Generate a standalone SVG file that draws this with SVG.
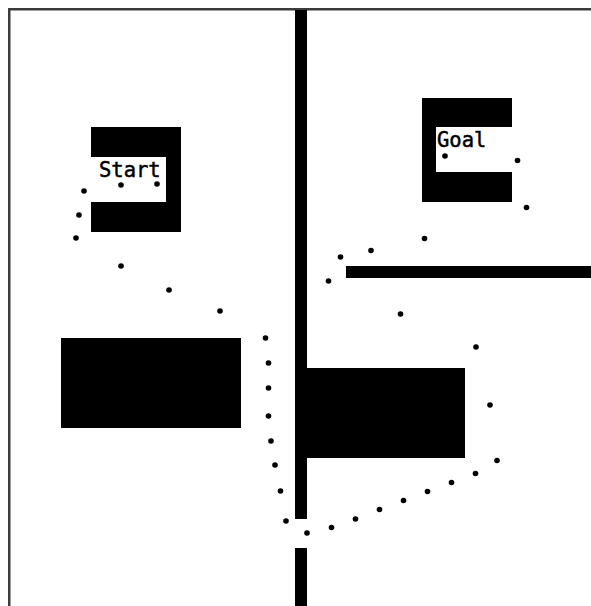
<svg xmlns="http://www.w3.org/2000/svg" width="591" height="606" viewBox="0 0 591 606">
<style>
.ob{fill:#000}
.d{fill:#000}
.t{font-family:"DejaVu Sans Mono","Liberation Mono",monospace;font-size:20.5px;fill:#000;stroke:#000;stroke-width:0.5}
</style>
<rect x="0" y="0" width="591" height="606" fill="#fff"/>
<g id="border" fill="#3c3c3c">
<rect x="8" y="8" width="583" height="2.5"/>
<rect x="8" y="8" width="2.5" height="598"/>
</g>
<g id="walls">
<rect class="ob" x="295" y="10" width="12" height="509"/>
<rect class="ob" x="295" y="548" width="12" height="58"/>
<rect class="ob" x="346" y="266" width="245" height="12"/>
<rect class="ob" x="61" y="338" width="180" height="90"/>
<rect class="ob" x="307" y="368" width="158" height="90"/>
</g>
<g id="start">
<path class="ob" d="M91 127H181V232H91V202H166V157H91Z"/>
<text class="t" x="99" y="177">Start</text>
</g>
<g id="goal">
<path class="ob" d="M422 98H512V127H436V172H512V202H422Z"/>
<text class="t" x="437" y="147">Goal</text>
</g>
<g id="path-dots">
<circle class="d" cx="157" cy="184" r="2.8"/>
<circle class="d" cx="121" cy="185" r="2.8"/>
<circle class="d" cx="84" cy="191" r="2.8"/>
<circle class="d" cx="79" cy="215" r="2.8"/>
<circle class="d" cx="76" cy="238" r="2.8"/>
<circle class="d" cx="121" cy="266" r="2.8"/>
<circle class="d" cx="169" cy="290" r="2.8"/>
<circle class="d" cx="220" cy="311" r="2.8"/>
<circle class="d" cx="265.5" cy="338" r="2.8"/>
<circle class="d" cx="268.5" cy="363" r="2.8"/>
<circle class="d" cx="268.5" cy="388" r="2.8"/>
<circle class="d" cx="268.5" cy="416" r="2.8"/>
<circle class="d" cx="271" cy="441" r="2.8"/>
<circle class="d" cx="275" cy="465" r="2.8"/>
<circle class="d" cx="280.5" cy="491" r="2.8"/>
<circle class="d" cx="286" cy="521" r="2.8"/>
<circle class="d" cx="307" cy="533" r="2.8"/>
<circle class="d" cx="331.5" cy="527.5" r="2.8"/>
<circle class="d" cx="355.5" cy="519" r="2.8"/>
<circle class="d" cx="379.5" cy="509.5" r="2.8"/>
<circle class="d" cx="403.5" cy="500.5" r="2.8"/>
<circle class="d" cx="427.5" cy="491.5" r="2.8"/>
<circle class="d" cx="451.5" cy="482.5" r="2.8"/>
<circle class="d" cx="475.5" cy="473.5" r="2.8"/>
<circle class="d" cx="497" cy="460.5" r="2.8"/>
<circle class="d" cx="490" cy="405" r="2.8"/>
<circle class="d" cx="476" cy="347" r="2.8"/>
<circle class="d" cx="400.5" cy="314" r="2.8"/>
<circle class="d" cx="328.5" cy="281" r="2.8"/>
<circle class="d" cx="340.5" cy="257" r="2.8"/>
<circle class="d" cx="371" cy="250.5" r="2.8"/>
<circle class="d" cx="424.5" cy="238.5" r="2.8"/>
<circle class="d" cx="526.5" cy="207.5" r="2.8"/>
<circle class="d" cx="517.5" cy="160.5" r="2.8"/>
<circle class="d" cx="445" cy="156" r="2.8"/>
</g>
</svg>
